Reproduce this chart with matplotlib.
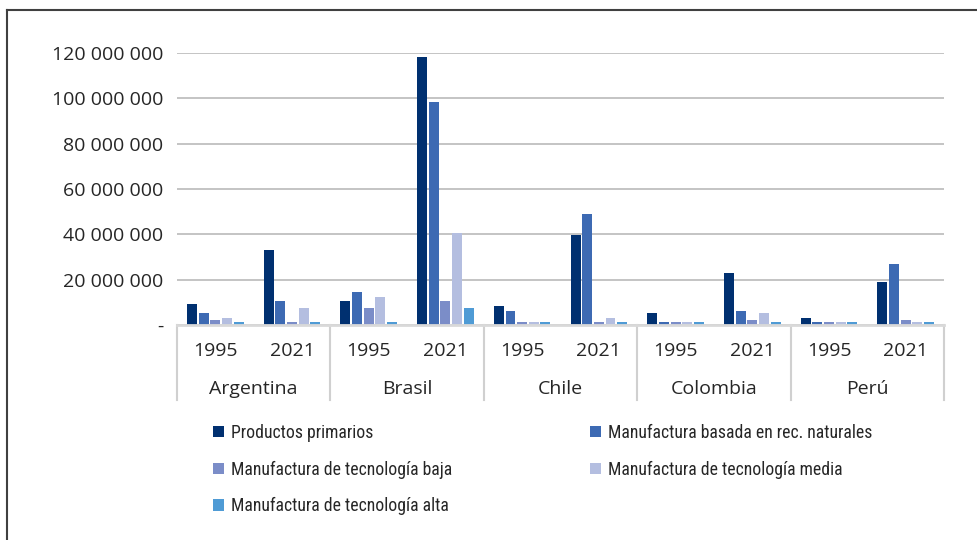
import matplotlib
matplotlib.use("Agg")
import matplotlib.pyplot as plt
from matplotlib.patches import Patch
from matplotlib.lines import Line2D
import matplotlib.ticker as mticker
from matplotlib import font_manager

countries = ["Argentina", "Brasil", "Chile", "Colombia", "Perú"]
years = ["1995", "2021"]
series = ["Productos primarios", "Manufactura basada en rec. naturales",
          "Manufactura de tecnología baja", "Manufactura de tecnología media",
          "Manufactura de tecnología alta"]
colors = ["#003070", "#3D6AB3", "#7B8DC8", "#B4BEE0", "#4F9BD5"]

# values per (country, year) slot, in order Arg95, Arg21, Bra95, Bra21, ...
primarios = [9.4e6, 33.0e6, 10.6e6, 118.4e6, 8.4e6, 39.8e6, 5.3e6, 22.9e6, 3.1e6, 19.0e6]
rec_nat   = [5.4e6, 10.6e6, 14.7e6, 98.5e6, 6.2e6, 49.0e6, 1.3e6, 6.2e6, 1.3e6, 26.9e6]
tec_baja  = [2.2e6, 1.3e6, 7.7e6, 10.6e6, 1.3e6, 1.3e6, 1.3e6, 2.2e6, 1.3e6, 2.2e6]
tec_media = [3.2e6, 7.5e6, 12.5e6, 40.7e6, 1.3e6, 3.1e6, 1.3e6, 5.3e6, 1.3e6, 1.3e6]
tec_alta  = [1.3e6, 1.3e6, 1.3e6, 7.7e6, 1.3e6, 1.3e6, 1.3e6, 1.3e6, 1.3e6, 1.3e6]
values = [primarios, rec_nat, tec_baja, tec_media, tec_alta]
yticks = [0, 20e6, 40e6, 60e6, 80e6, 100e6, 120e6]

W, H = 978, 540
fig = plt.figure(figsize=(W / 100, H / 100), dpi=100)
plt.rcParams['font.family'] = ['Open Sans', 'DejaVu Sans']

installed = {f.name for f in font_manager.fontManager.ttflist}
leg_family, leg_size = "Roboto", 11.5
for fam, sz in [("Roboto Condensed", 12.7), ("Open Sans Condensed", 12.7),
                ("Liberation Sans Narrow", 12.7)]:
    if fam in installed:
        leg_family, leg_size = fam, sz
        break

# outer frame (top and left)
fig.add_artist(Line2D([7 / W, 7 / W], [0, 1 - 10 / H], transform=fig.transFigure,
                      color="#404040", lw=1.5))
fig.add_artist(Line2D([7 / W, 1], [1 - 10 / H, 1 - 10 / H], transform=fig.transFigure,
                      color="#404040", lw=1.5))

x0, x1, yb, yt = 177, 944, 325, 53
ax = fig.add_axes([x0 / W, 1 - yb / H, (x1 - x0) / W, (yb - yt) / H])

nslots = len(countries) * len(years)
pitch = 0.152
bw = 0.13
for k, (vals, c) in enumerate(zip(values, colors)):
    xs = [i + 0.5 + (k - 2) * pitch for i in range(nslots)]
    ax.bar(xs, vals, width=bw, color=c, label=series[k], zorder=3)

ax.set_xlim(0, nslots)
ax.set_ylim(0, 120e6)
ax.set_yticks(yticks)

def fmt(v, pos):
    if v == 0:
        return "-"
    return f"{int(round(v)):,}".replace(",", " ")

ax.yaxis.set_major_formatter(mticker.FuncFormatter(fmt))
ax.tick_params(axis="y", length=0, pad=10, labelsize=14, labelcolor="#262626")
ax.set_xticks([])
ax.grid(axis="y", color="#BFBFBF", lw=1.3, zorder=0)
for s in ["top", "right", "left"]:
    ax.spines[s].set_visible(False)
ax.spines["bottom"].set_color("#D9D9D9")
ax.spines["bottom"].set_linewidth(2)
ax.spines["bottom"].set_zorder(4)

# multi-level category axis
trans = ax.get_xaxis_transform()
sep_bottom = -(400 - yb) / (yb - yt)
for b in range(0, nslots + 1, 2):
    ax.add_line(Line2D([b, b], [0, sep_bottom], transform=trans, color="#D0D0D0",
                       lw=1.5, clip_on=False))
yy = -(351 - yb) / (yb - yt)
yc = -(389 - yb) / (yb - yt)
for i in range(nslots):
    ax.text(i + 0.5, yy, years[i % 2], transform=trans, ha="center", va="center",
            fontsize=14, color="#262626")
for j, c in enumerate(countries):
    ax.text(2 * j + 1, yc, c, transform=trans, ha="center", va="center",
            fontsize=14, color="#262626")

# legend: two separate columns, placed at the reference positions
handles = [Patch(facecolor=c, edgecolor="none") for c in colors]
legkw = dict(loc="upper left", frameon=False, borderpad=0, borderaxespad=0,
             handlelength=0.6, handleheight=0.6, handletextpad=0.4,
             labelspacing=1.05, prop={"family": [leg_family, "DejaVu Sans"], "size": leg_size})
leg1 = fig.legend([handles[i] for i in [0, 2, 4]], [series[i] for i in [0, 2, 4]],
                  bbox_to_anchor=(213 / W, 1 - 424 / H), **legkw)
leg2 = fig.legend([handles[i] for i in [1, 3]], [series[i] for i in [1, 3]],
                  bbox_to_anchor=(590 / W, 1 - 424 / H), **legkw)
for lg in (leg1, leg2):
    for t in lg.get_texts():
        t.set_color("#262626")

fig.savefig("out.png", dpi=100)
